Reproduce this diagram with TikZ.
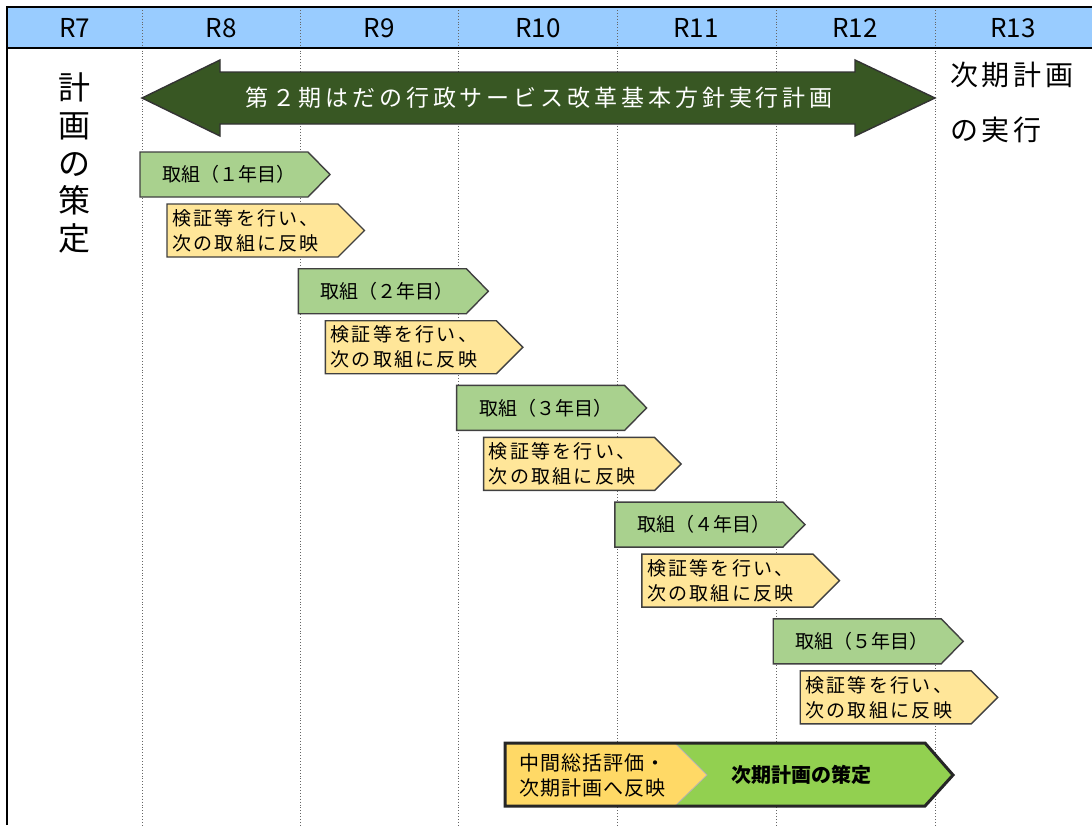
\documentclass[tikz,border=0pt]{standalone}
\usepackage{fontspec}
\setmainfont{Noto Sans CJK JP}
\begin{document}
\begin{tikzpicture}[x=1pt,y=-1pt,
  hdrline/.style={line width=2.5pt,black},
  colline/.style={draw=gray!80!black,dotted,line width=0.9pt},
  hdrtext/.style={font=\fontsize{26}{30}\selectfont,anchor=center},
  gbox/.style={draw=black!75,line width=1.4pt,fill=greenA},
  ybox/.style={draw=black!75,line width=1.4pt,fill=yellowA},
  gtext/.style={font=\fontsize{19}{22}\selectfont,anchor=center},
  ytext/.style={font=\fontsize{19}{25}\selectfont\addfontfeature{LetterSpace=12},align=left,anchor=west,inner sep=0pt},
]
\definecolor{hdrblue}{HTML}{99CCFF}
\definecolor{darkgreen}{HTML}{385723}
\definecolor{greenA}{HTML}{A9D18E}
\definecolor{yellowA}{HTML}{FFE699}
\definecolor{yellowB}{HTML}{FFD966}
\definecolor{greenB}{HTML}{92D050}
\useasboundingbox (0,0) rectangle (1092,825);
\fill[white] (0,0) rectangle (1092,825);
% header
\fill[hdrblue] (7,7) rectangle (1092,48);
\foreach \x in {142,300,458,617,776,935} \draw[colline] (\x,7) -- (\x,825);
\draw[hdrline] (7,825) -- (7,7) -- (1092,7);
\draw[hdrline] (7,48) -- (1092,48);
\foreach \x/\t/\n in {74.5/R7/r7,221/R8/r8,379/R9/r9,538/R10/r10,696/R11/r11,855/R12/r12,1013/R13/r13}
  \node[hdrtext] (\n) at (\x,28) {\t};
% big arrow
\draw[draw=black!80,line width=1.4pt,fill=darkgreen] (142,98) -- (220,60) -- (220,72) -- (855,72) -- (855,60) -- (935,98) -- (855,136) -- (855,124) -- (220,124) -- (220,136) -- cycle;
\node[font=\fontsize{23}{26}\selectfont\addfontfeature{LetterSpace=17},text=white] (plan) at (539,98) {第２期はだの行政サービス改革基本方針実行計画};
% left / right texts
\node[font=\fontsize{32}{37.8}\selectfont,align=center] (left) at (74,163) {計\\画\\の\\策\\定};
\node[font=\fontsize{28}{55}\selectfont\addfontfeature{LetterSpace=13},align=left,anchor=north west,inner sep=0pt] (right) at (950,62) {次期計画\\の実行};
% stages
\foreach \i/\n in {0/１,1/２,2/３,3/４,4/５} {
  \pgfmathsetmacro\gx{140+158.3*\i}
  \pgfmathsetmacro\gy{152+116.7*\i}
  \pgfmathsetmacro\yx{\gx+27}
  \pgfmathsetmacro\yy{\gy+52}
  \draw[gbox] (\gx,\gy) -- ++(168,0) -- ++(22,22.5) -- ++(-22,22.5) -- ++(-168,0) -- cycle;
  \node[gtext] (g\i) at (\gx+89,\gy+22.5) {取組（\n 年目）};
  \draw[ybox] (\yx,\yy) -- ++(171,0) -- ++(26.5,26.5) -- ++(-26.5,26.5) -- ++(-171,0) -- cycle;
  \node[ytext] (y\i) at (\yx+5,\yy+26.5) {検証等を行い、\\次の取組に反映};
}
% bottom combined
\fill[greenB] (505,743) -- (925,743) -- (953,775) -- (925,806) -- (505,806) -- cycle;
\fill[yellowB] (505,743) -- (675,743) -- (707,775) -- (675,806) -- (505,806) -- cycle;
\draw[black!30,line width=0.8pt] (675,743) -- (707,775) -- (675,806);
\draw[draw=black!85,line width=3pt,line join=miter] (505,743) -- (925,743) -- (953,775) -- (925,806) -- (505,806) -- cycle;
\node[font=\fontsize{20}{25}\selectfont\addfontfeature{LetterSpace=5},align=center] (mid) at (592,775) {中間総括評価・\\次期計画へ反映};
\node[font=\fontsize{20}{25}\selectfont\bfseries] (next) at (801,775) {次期計画の策定};
\end{tikzpicture}
\end{document}
